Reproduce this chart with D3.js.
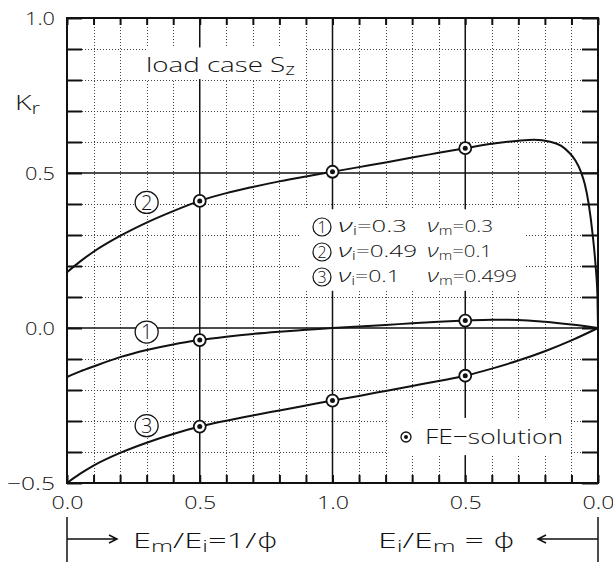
<!DOCTYPE html>
<html>
<head>
<meta charset="utf-8">
<script src="https://cdn.jsdelivr.net/npm/d3@7/dist/d3.min.js"></script>
<style>
  html, body { margin: 0; padding: 0; background: #fff; }
  svg { display: block; }
  text { font-family: "Open Sans", "DejaVu Sans", sans-serif; font-weight: 300; fill: #111; }
</style>
</head>
<body>
<svg id="chart" width="613" height="562"></svg>
<script>
// Axis ticks and labels (the x axis runs 0 -> 1 -> 0 : Em/Ei on the left half, Ei/Em on the right half)
const xTicks = [0, 0.5, 1, 1.5, 2];
const xTickLabels = ["0.0", "0.5", "1.0", "0.5", "0.0"];
const yTicks = [-0.5, 0, 0.5, 1.0];
const yTickLabels = ["\u22120.5", "0.0", "0.5", "1.0"];

// K_r curves for the three Poisson ratio combinations
const curve1 = [[0,-0.158],[0.05,-0.14],[0.1,-0.124],[0.2,-0.094],[0.3,-0.071],[0.4,-0.053],[0.5,-0.039],[0.6,-0.028],[0.7,-0.019],[0.8,-0.012],[0.9,-0.006],[1.0,0.0],[1.1,0.005],[1.2,0.01],[1.3,0.015],[1.4,0.02],[1.5,0.024],[1.6,0.027],[1.7,0.026],[1.8,0.02],[1.9,0.011],[2.0,0.0]];
const curve2 = [[0,0.18],[0.05,0.215],[0.1,0.246],[0.2,0.297],[0.3,0.34],[0.4,0.377],[0.5,0.41],[0.6,0.435],[0.7,0.455],[0.8,0.473],[0.9,0.489],[1.0,0.504],[1.1,0.519],[1.2,0.534],[1.3,0.55],[1.4,0.565],[1.5,0.58],[1.6,0.594],[1.7,0.604],[1.76,0.607],[1.82,0.601],[1.86,0.588],[1.89,0.567],[1.915,0.54],[1.935,0.505],[1.95,0.465],[1.965,0.4],[1.98,0.3],[1.991,0.2],[1.998,0.1],[2.0,0.0]];
const curve3 = [[0,-0.5],[0.05,-0.47],[0.1,-0.444],[0.2,-0.403],[0.3,-0.37],[0.4,-0.342],[0.5,-0.318],[0.6,-0.299],[0.7,-0.282],[0.8,-0.266],[0.9,-0.25],[1.0,-0.234],[1.1,-0.219],[1.2,-0.203],[1.3,-0.187],[1.4,-0.171],[1.5,-0.154],[1.6,-0.131],[1.7,-0.105],[1.8,-0.075],[1.9,-0.04],[2.0,0.0]];

// FE-solution points
const fePoints = [[0.5,-0.039],[1.5,0.024],[0.5,0.41],[1.0,0.504],[1.5,0.58],[0.5,-0.318],[1.0,-0.234],[1.5,-0.154]];

// Curve number tags placed on the curves
const curveTags = [["1",0.3,-0.013],["2",0.3,0.405],["3",0.3,-0.315]];

// Legend rows: number, nu_i, nu_m
const legendNums = ["1","2","3"];
const legendNuI = ["0.3","0.49","0.1"];
const legendNuM = ["0.3","0.1","0.499"];

const svg = d3.select("#chart");
const x = d3.scaleLinear().domain([0, 2]).range([67, 598]);
const y = d3.scaleLinear().domain([-0.5, 1.0]).range([483, 18]);

const isMajor = v => Math.abs(v * 2 - Math.round(v * 2)) < 1e-6;
const minorX = d3.range(1, 20).map(i => i / 10).filter(v => !isMajor(v));
const minorY = d3.range(-4, 10).map(i => i / 10).filter(v => !isMajor(v));
const allY = d3.range(-5, 11).map(i => i / 10);
const allX = d3.range(0, 21).map(i => i / 10);

// widen a text to a given advance (plotter lettering is broad and open)
const fit = (sel, w) => sel.attr("textLength", w).attr("lengthAdjust", "spacingAndGlyphs");

// dotted grid
const grid = svg.append("g").attr("stroke", "#444").attr("stroke-width", 1).attr("stroke-dasharray", "1,2");
grid.selectAll(".gx").data(minorX).join("line")
  .attr("x1", d => Math.round(x(d)) + 0.5).attr("x2", d => Math.round(x(d)) + 0.5)
  .attr("y1", y(1)).attr("y2", y(-0.5));
grid.selectAll(".gy").data(minorY).join("line")
  .attr("y1", d => Math.round(y(d)) + 0.5).attr("y2", d => Math.round(y(d)) + 0.5)
  .attr("x1", x(0)).attr("x2", x(2));

// solid major lines
const major = svg.append("g").attr("stroke", "#111").attr("stroke-width", 1.5);
major.selectAll(".mx").data([0.5, 1, 1.5]).join("line")
  .attr("x1", d => x(d)).attr("x2", d => x(d)).attr("y1", y(1)).attr("y2", y(-0.5));
major.selectAll(".my").data([0, 0.5]).join("line")
  .attr("y1", d => y(d)).attr("y2", d => y(d)).attr("x1", x(0)).attr("x2", x(2));

// inward ticks on all four sides
const tickStyle = g => { g.select(".domain").remove(); g.selectAll("line").attr("stroke", "#111").attr("stroke-width", 2); };
svg.append("g").attr("transform", `translate(${x(0)},0)`)
  .call(d3.axisLeft(y).tickValues(allY).tickSize(-15).tickFormat("")).call(tickStyle);
svg.append("g").attr("transform", `translate(${x(2)},0)`)
  .call(d3.axisRight(y).tickValues(allY).tickSize(-16).tickFormat("")).call(tickStyle);
svg.append("g").attr("transform", `translate(0,${y(1)})`)
  .call(d3.axisTop(x).tickValues(allX).tickSize(-7).tickFormat("")).call(tickStyle);
svg.append("g").attr("transform", `translate(0,${y(-0.5)})`)
  .call(d3.axisBottom(x).tickValues(allX).tickSize(-8).tickFormat("")).call(tickStyle);

// white panels behind the annotations
const panels = [[0.298, 0.9, 0.905, 0.803], [0.877, 1.725, 0.383, 0.12], [1.21, 1.895, -0.29, -0.41]];
svg.append("g").selectAll("rect").data(panels).join("rect")
  .attr("x", d => x(d[0])).attr("width", d => x(d[1]) - x(d[0]))
  .attr("y", d => y(d[2])).attr("height", d => y(d[3]) - y(d[2]))
  .attr("fill", "#fff");

// frame
svg.append("rect").attr("x", x(0)).attr("y", y(1)).attr("width", x(2) - x(0)).attr("height", y(-0.5) - y(1))
  .attr("fill", "none").attr("stroke", "#111").attr("stroke-width", 2);

// tick labels
const yLab = svg.append("g").attr("transform", `translate(${x(0) - 12},0)`)
  .call(d3.axisLeft(y).tickValues(yTicks).tickSize(0).tickPadding(0).tickFormat((d, i) => yTickLabels[i]));
yLab.select(".domain").remove();
yLab.selectAll("text").attr("font-size", 18).attr("font-family", null).attr("dy", "0.36em")
  .each(function (d, i) { fit(d3.select(this), yTickLabels[i].length > 3 ? 48 : 30); });

const xLab = svg.append("g").attr("transform", `translate(0,${y(-0.5)})`)
  .call(d3.axisBottom(x).tickValues(xTicks).tickSize(0).tickPadding(13).tickFormat((d, i) => xTickLabels[i]));
xLab.select(".domain").remove();
xLab.selectAll("text").attr("font-size", 18).attr("font-family", null).call(fit, 32);

// curves
const line = d3.line().x(d => x(d[0])).y(d => y(d[1])).curve(d3.curveMonotoneX);
svg.append("g").attr("fill", "none").attr("stroke", "#111").attr("stroke-width", 2)
  .selectAll("path").data([curve1, curve2, curve3]).join("path").attr("d", line);

// FE markers
const fe = svg.append("g").selectAll("g").data(fePoints).join("g")
  .attr("transform", d => `translate(${x(d[0])},${y(d[1])})`);
fe.append("circle").attr("r", 6).attr("fill", "#fff").attr("stroke", "#111").attr("stroke-width", 1.8);
fe.append("circle").attr("r", 2.5).attr("fill", "#111");

// circled curve numbers
const tags = svg.append("g").selectAll("g").data(curveTags).join("g")
  .attr("transform", d => `translate(${x(d[1])},${y(d[2])})`);
tags.append("ellipse").attr("rx", 11.5).attr("ry", 11).attr("fill", "#fff").attr("stroke", "#111").attr("stroke-width", 1.3);
tags.append("text").text(d => d[0]).attr("text-anchor", "middle").attr("dy", "0.36em").attr("font-size", 20);

// legend
const leg = svg.append("g").selectAll("g").data(legendNums).join("g")
  .attr("transform", (d, i) => `translate(0,${227 + i * 25})`);
leg.append("circle").attr("cx", 322).attr("r", 9).attr("fill", "#fff").attr("stroke", "#111").attr("stroke-width", 1.2);
leg.append("text").text(d => d).attr("x", 322).attr("text-anchor", "middle").attr("dy", "0.36em").attr("font-size", 16);
const nuIw = [69, 79, 62], nuMw = [66, 65, 90];
const nuI = leg.append("text").attr("x", 338).attr("y", 5).attr("font-size", 16)
  .each(function (d, i) { fit(d3.select(this), nuIw[i]); });
nuI.append("tspan").text("\u03bd").attr("font-style", "italic").attr("font-size", 19);
nuI.append("tspan").text("i").attr("font-size", 12).attr("dy", 3);
nuI.append("tspan").text((d, i) => "=" + legendNuI[i]).attr("dy", -3);
const nuM = leg.append("text").attr("x", 427).attr("y", 5).attr("font-size", 16)
  .each(function (d, i) { fit(d3.select(this), nuMw[i]); });
nuM.append("tspan").text("\u03bd").attr("font-style", "italic").attr("font-size", 19);
nuM.append("tspan").text("m").attr("font-size", 12).attr("dy", 3);
nuM.append("tspan").text((d, i) => "=" + legendNuM[i]).attr("dy", -3);

// load case title
const title = svg.append("text").attr("x", 146).attr("y", 72).attr("font-size", 21).call(fit, 149);
title.append("tspan").text("load case S");
title.append("tspan").text("z").attr("font-size", 16).attr("dy", 3);

// FE legend
svg.append("circle").attr("cx", 406).attr("cy", 437).attr("r", 5).attr("fill", "#fff").attr("stroke", "#111").attr("stroke-width", 1.3);
svg.append("circle").attr("cx", 406).attr("cy", 437).attr("r", 2).attr("fill", "#111");
svg.append("text").attr("x", 425).attr("y", 444).attr("font-size", 21).text("FE\u2212solution").call(fit, 138);

// y axis title
const yt = svg.append("text").attr("x", 15).attr("y", 110).attr("font-size", 21).call(fit, 25);
yt.append("tspan").text("K");
yt.append("tspan").text("r").attr("font-size", 16).attr("dy", 4);

// bottom direction captions
const cap = svg.append("g").attr("stroke", "#111").attr("stroke-width", 1.5).attr("fill", "none");
cap.append("line").attr("x1", x(0)).attr("x2", x(0)).attr("y1", 517).attr("y2", 562);
cap.append("path").attr("d", `M${x(0)},539H117M109,535L117,539L109,543`);
cap.append("line").attr("x1", x(2)).attr("x2", x(2)).attr("y1", 517).attr("y2", 562);
cap.append("path").attr("d", `M${x(2)},539H538M546,535L538,539L546,543`);

const capL = svg.append("text").attr("x", 133).attr("y", 548).attr("font-size", 21).call(fit, 145);
capL.append("tspan").text("E");
capL.append("tspan").text("m").attr("font-size", 16).attr("dy", 4);
capL.append("tspan").text("/E").attr("dy", -4);
capL.append("tspan").text("i").attr("font-size", 16).attr("dy", 4);
capL.append("tspan").text("=1/\u03d5").attr("dy", -4);

const capR = svg.append("text").attr("x", 378).attr("y", 548).attr("font-size", 21).call(fit, 137);
capR.append("tspan").text("E");
capR.append("tspan").text("i").attr("font-size", 16).attr("dy", 4);
capR.append("tspan").text("/E").attr("dy", -4);
capR.append("tspan").text("m").attr("font-size", 16).attr("dy", 4);
capR.append("tspan").text(" = \u03d5").attr("dy", -4);
</script>
</body>
</html>
